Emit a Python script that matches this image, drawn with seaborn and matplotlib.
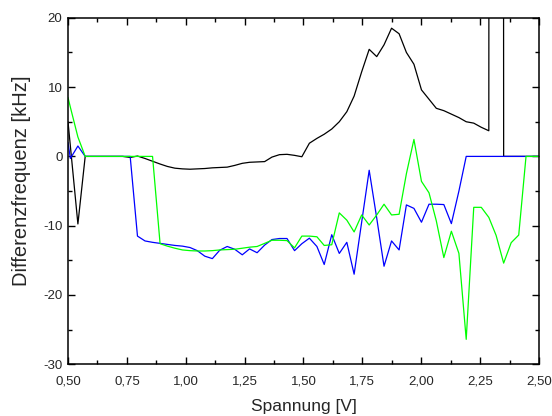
import matplotlib
matplotlib.use("Agg")
import matplotlib.pyplot as plt
from matplotlib.ticker import MultipleLocator, FuncFormatter
import seaborn as sns
import pandas as pd

sns.set_style("ticks")
plt.rcParams["font.family"] = ["Liberation Sans", "DejaVu Sans"]
plt.rcParams["axes.unicode_minus"] = False

# Voltage sweep [V]
spannung = [0.500, 0.510, 0.542, 0.573, 0.605, 0.637, 0.669, 0.700, 0.732, 0.764,
            0.795, 0.827, 0.859, 0.891, 0.922, 0.954, 0.986, 1.018, 1.049, 1.081,
            1.113, 1.144, 1.176, 1.208, 1.240, 1.271, 1.303, 1.335, 1.366, 1.398,
            1.430, 1.462, 1.493, 1.525, 1.557, 1.588, 1.620, 1.652, 1.684, 1.715,
            1.747, 1.779, 1.811, 1.842, 1.874, 1.906, 1.937, 1.969, 2.001, 2.033,
            2.064, 2.096, 2.128, 2.160, 2.191, 2.223, 2.255, 2.287, 2.318, 2.350,
            2.382, 2.414, 2.445, 2.477, 2.509]

# Frequency difference [kHz], three measurement series
diff_schwarz = [5.0, 1.5, -9.75, 0.0, 0.0, 0.0, 0.0, 0.0, 0.0, -0.15,
                0.05, -0.3, -0.7, -1.1, -1.45, -1.7, -1.8, -1.85, -1.8, -1.75,
                -1.65, -1.6, -1.55, -1.3, -1.0, -0.85, -0.8, -0.75, -0.1, 0.25,
                0.3, 0.15, -0.05, 1.9, 2.6, 3.2, 3.95, 5.0, 6.45, 8.7,
                12.2, 15.45, 14.4, 16.1, 18.5, 17.7, 15.0, 13.3, 9.6, 8.25,
                6.94, 6.6, 6.1, 5.6, 5.0, 4.8, 4.2, 3.7, 2000.0, 0.0,
                0.0, 0.0, 0.0, 0.0, 0.0]

diff_blau = [2.0, -0.3, 1.5, 0.0, 0.0, 0.0, 0.0, 0.0, 0.0, 0.0,
             -11.5, -12.2, -12.4, -12.55, -12.7, -12.85, -12.95, -13.15, -13.6, -14.4,
             -14.75, -13.55, -13.0, -13.4, -14.2, -13.35, -13.9, -12.8, -12.0, -11.85,
             -11.85, -13.6, -12.6, -11.8, -13.0, -15.6, -11.3, -14.0, -12.4, -17.0,
             -9.5, -2.0, -8.9, -15.85, -12.2, -13.5, -7.0, -7.5, -9.5, -6.9,
             -6.9, -6.95, -9.7, -5.0, 0.0, 0.0, 0.0, 0.0, 0.0, 0.0,
             0.0, 0.0, 0.0, 0.0, 0.0]

diff_gruen = [8.5, 7.1, 2.8, 0.0, 0.0, 0.0, 0.0, 0.0, 0.0, 0.0,
              0.0, 0.0, 0.0, -12.6, -12.95, -13.25, -13.5, -13.6, -13.65, -13.65,
              -13.6, -13.5, -13.45, -13.4, -13.25, -13.1, -13.0, -12.55, -12.1, -12.1,
              -12.15, -13.2, -11.5, -11.5, -11.6, -12.85, -12.75, -8.15, -9.2, -10.9,
              -8.45, -9.9, -8.45, -6.9, -8.45, -8.35, -2.5, 2.45, -3.6, -5.25,
              -9.3, -14.6, -10.8, -14.0, -26.4, -7.35, -7.35, -8.8, -11.4, -15.4,
              -12.45, -11.35, 0.0, 0.0, 0.0]

serien = [("schwarz", diff_schwarz, "#000000"),
          ("blau", diff_blau, "#0000ff"),
          ("gruen", diff_gruen, "#00ff00")]

fig = plt.figure(figsize=(5.52, 4.16), dpi=100)
ax = fig.add_axes([0.1232, 0.1243, 0.8532, 0.8329])

for name, werte, farbe in serien:
    df = pd.DataFrame({"Spannung": spannung, "Diff": werte})
    sns.lineplot(data=df, x="Spannung", y="Diff", sort=False, estimator=None,
                 color=farbe, linewidth=0.9, ax=ax, legend=False)

ax.set_xlim(0.5, 2.5)
ax.set_ylim(-30, 20)

ax.xaxis.set_major_locator(MultipleLocator(0.25))
ax.xaxis.set_minor_locator(MultipleLocator(0.125))
ax.yaxis.set_major_locator(MultipleLocator(10))
ax.yaxis.set_minor_locator(MultipleLocator(5))
ax.xaxis.set_major_formatter(FuncFormatter(lambda v, p: f"{v:.2f}".replace(".", ",")))
ax.yaxis.set_major_formatter(FuncFormatter(lambda v, p: f"{v:.0f}"))

ax.tick_params(which="both", direction="in", top=True, right=True,
               labeltop=False, labelright=False, width=1.0, color="black")
ax.tick_params(which="major", length=5, labelsize=9.5)
ax.tick_params(axis="x", which="major", pad=8)
ax.tick_params(axis="y", which="major", pad=4)
ax.tick_params(which="minor", length=3)

for s in ax.spines.values():
    s.set_visible(True)
    s.set_linewidth(1.1)
    s.set_color("black")

ax.set_xlabel("Spannung [V]", fontsize=12.5, labelpad=8)
ax.set_ylabel("Differenzfrequenz [kHz]", fontsize=14.5)
ax.yaxis.set_label_coords(-0.078, 0.53)

fig.savefig("out.png", dpi=100)
